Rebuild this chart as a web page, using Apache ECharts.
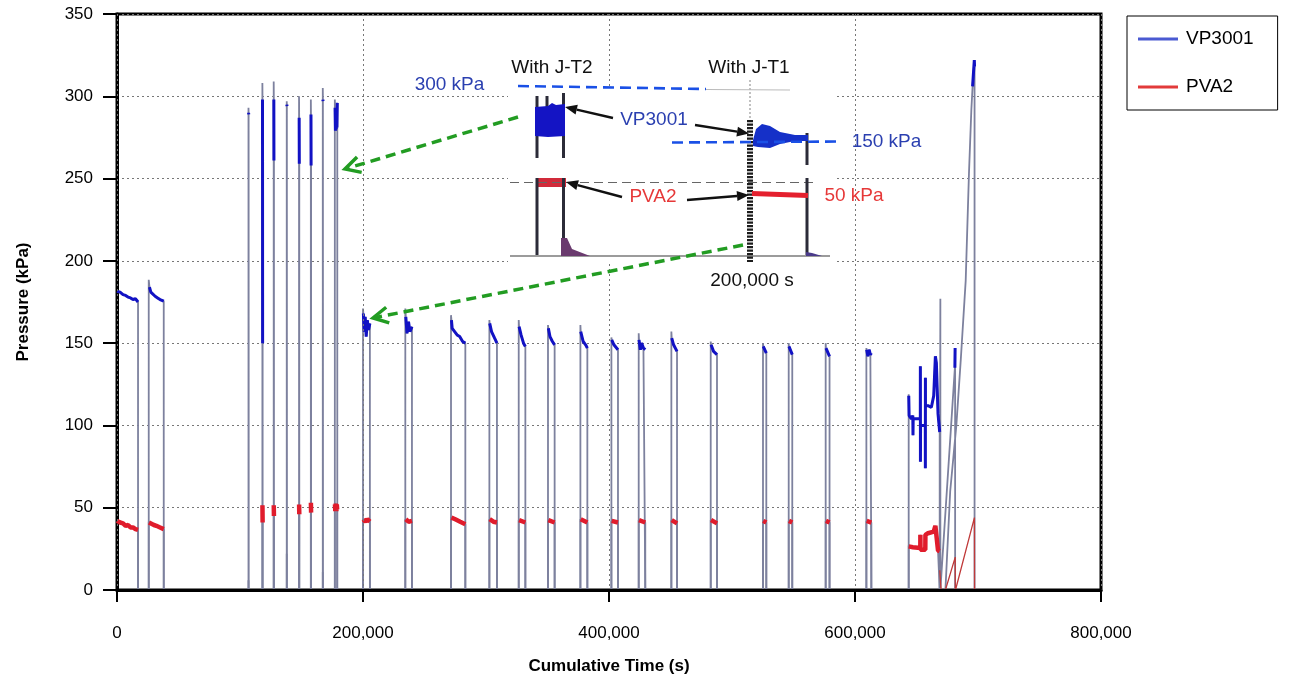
<!DOCTYPE html>
<html><head><meta charset="utf-8">
<script src="https://cdn.jsdelivr.net/npm/echarts@6/dist/echarts.min.js"></script>
<style>html,body{margin:0;padding:0;background:#fff}#c{width:1291px;height:686px}</style>
</head><body><div id="c"></div>
<script>
// ---------- DATA (cumulative time in s, pressure in kPa) ----------
// each pulse = [risePoints, plateauPoints]; rise points are the transition (grey), plateau points are the coloured record
const vpEarly = [
  [[], [[0,181.5],[2500,181],[4900,179.5],[7000,179],[8950,178],[11000,177.5],[13000,176.5],[15000,177],[17100,175]]],
  [[[25800,188.5]], [[26400,184],[27500,181],[29000,180],[31000,178.5],[33000,177.5],[35000,176.5],[38000,175.5]]]
];
const vpSpikes = [
  [[[106900,293]], [[107000,290],[107100,289]]],
  [[[118200,308]], [[118300,298],[118400,150]]],
  [[[127400,309]], [[127500,298],[127600,261]]],
  [[[138000,297]], [[138100,295],[138200,294]]],
  [[[148000,300]], [[148100,287],[148200,259]]],
  [[[157600,298]], [[157700,289],[157800,258]]],
  [[[167300,305]], [[167400,298],[167500,297]]],
  [[[177100,298]], [[177300,293],[177600,279],[177900,291],[178200,280],[178500,290],[178800,281],[179100,296]]]
];
const vpCycles = [
  [[[200000,171]], [[200300,168],[201000,157],[201800,166],[202600,154],[203500,164],[204500,158],[205600,162]]],
  [[[234400,171]], [[234800,166],[235800,156],[237000,163],[238200,157],[239800,160]]],
  [[[271550,167]], [[271900,164],[272500,159],[274500,157],[276500,155],[278600,154],[281000,151],[283200,150]]],
  [[[302750,164]], [[303000,162],[304500,157],[307000,153],[308900,150]]],
  [[[326600,164]], [[326900,160],[328500,155],[330500,150],[332000,148]]],
  [[[350400,161]], [[350700,159],[352000,154],[354000,151],[355800,149]]],
  [[[376750,161]], [[377000,157],[379000,151],[381000,149],[382400,147]]],
  [[[401950,153.5]], [[402200,152],[404000,149],[407300,146]]],
  [[[424150,156]], [[424400,152],[425500,146],[426500,150],[428000,147],[429500,146]]],
  [[[450700,157]], [[451000,153],[452500,149],[455300,145]]],
  [[[482700,151]], [[483000,149],[485000,145],[487800,143]]],
  [[[525200,150]], [[525400,148],[527900,144]]],
  [[[546100,150]], [[546300,148],[549000,143]]],
  [[[576150,150]], [[576400,147],[579300,142]]],
  [[[609250,147]], [[609500,146],[610500,142],[611500,146],[612500,143],[613300,144]]]
];
const vpEnd = [
  [[[643650,119]], [[643700,118],[644000,106],[645850,104],[647000,106],[647150,94],[647300,104],[649900,104],[653100,104],[653150,136],[653200,78],[653300,100],[655300,100],[657150,100],[657200,74],[657250,129],[657300,112],[659350,112],[662100,111],[664000,118],[665350,142],[666150,138],[667500,107],[668850,96]]],
  [[[669400,177]], []],
  [[[670000,0]], [[681200,135],[681400,147]]],
  [[[673500,0],[677400,60],[682400,100],[686000,140],[690000,188],[692650,253],[694600,292]], [[695600,306],[697000,322],[697200,318]]]
];

const pvaEarly = [
  [[], [[0,42],[2500,41],[4900,40.5],[7000,39],[8950,39.5],[11000,38],[13000,38],[15000,37],[17100,36.5]]],
  [[[25800,41.5]], [[26000,41],[27500,40.5],[30000,39.5],[32000,39],[35000,38],[38000,37]]]
];
const pvaSpikes = [
  [[[106900,6]], []],
  [[[118200,51.5]], [[118250,51.5],[118400,41]]],
  [[[127400,51.5]], [[127450,51.5],[127600,45]]],
  [[[138000,22]], []],
  [[[148000,52]], [[148050,52],[148200,46]]],
  [[[157600,53]], [[157650,53],[157800,47]]],
  [[[167300,11]], []],
  [[[177100,53]], [[177200,52],[177500,48],[177900,52.5],[178300,48],[178700,52],[179000,49]]]
];
const pvaCycles = [
  [[[200000,43]], [[200300,43],[202000,41.5],[203500,43],[205600,41.5]]],
  [[[234400,43]], [[234800,43],[237000,41.5],[239800,42]]],
  [[[271550,44]], [[271900,44],[275000,43],[279000,41.5],[283200,40]]],
  [[[302750,43]], [[303000,43],[306000,41.5],[308900,41]]],
  [[[326600,42.5]], [[326900,42.5],[332000,41]]],
  [[[350400,42.5]], [[350700,42.5],[355800,41]]],
  [[[376750,43]], [[377000,43],[382400,41]]],
  [[[401950,42]], [[402200,42],[407300,41]]],
  [[[424150,42.5]], [[424400,42.5],[429500,41]]],
  [[[450700,42.5]], [[451000,42.5],[455300,40.5]]],
  [[[482700,42.5]], [[483000,42.5],[487800,40.5]]],
  [[[525200,42]], [[525400,42],[527900,41]]],
  [[[546100,42]], [[546300,42],[549000,41]]],
  [[[576150,42]], [[576400,42],[579300,41]]],
  [[[609250,42]], [[609500,42],[613300,41]]]
];
const pvaEnd = [
  [[[643650,27]], [[643700,26.5],[647000,26],[653100,25.5],[653150,33.5],[653250,24.5],[657150,24.5],[657250,33.5],[659350,34.5],[664000,35.5],[665350,39],[666150,39],[667500,24],[668850,23.5]]]
];
const pvaRamps = [
  [[668900,12],[670000,0]],
  [[673500,0],[681500,20],[681550,0]],
  [[681700,0],[697100,44],[697200,0]]
];

const yTicks = { min: 0, max: 350, step: 50 };
const xTicks = { min: 0, max: 800000, step: 200000 };

// ---------- build series data ----------
function buildTrace(pulses) {
  const out = [];
  pulses.forEach(([rise, flat]) => {
    const pts = rise.concat(flat);
    if (!pts.length) return;
    if (pts[0][0] > 0) out.push([pts[0][0], 0]);
    pts.forEach(p => out.push(p));
    out.push([pts[pts.length - 1][0], 0]);
  });
  return out;
}
function buildFlat(pulses) {
  const out = [];
  pulses.forEach(([rise, flat]) => {
    flat.forEach(p => out.push(p));
    if (flat.length) out.push([flat[flat.length - 1][0], '-']);
  });
  return out;
}
function joinSegs(segs) {
  const out = [];
  segs.forEach(s => { s.forEach(p => out.push(p)); out.push([s[s.length - 1][0], '-']); });
  return out;
}
const vpAll = vpEarly.concat(vpSpikes, vpCycles, vpEnd);
const pvaAll = pvaEarly.concat(pvaSpikes, pvaCycles, pvaEnd);

// ---------- annotation (inset picture) ----------
const G = [];
const FF = 'Liberation Sans, Arial, sans-serif';
function gl(x1, y1, x2, y2, stroke, w, dash) {
  G.push({ type: 'line', z: 100, silent: true, shape: { x1, y1, x2, y2 },
    style: { stroke, lineWidth: w, lineDash: dash || null, lineCap: 'butt' } });
}
function gpoly(points, fill) { G.push({ type: 'polygon', z: 100, silent: true, shape: { points }, style: { fill } }); }
function grect(x, y, w, h, fill, stroke) {
  G.push({ type: 'rect', z: 99, silent: true, shape: { x, y, width: w, height: h }, style: { fill, stroke: stroke || null, lineWidth: 1 } });
}
function gtext(t, x, y, color, size) {
  G.push({ type: 'text', z: 101, silent: true,
    style: { text: t, x, y, fill: color, fontSize: size, fontFamily: FF, align: 'center', verticalAlign: 'middle' } });
}
function arrow(x1, y1, x2, y2, color, w, len, half, dash, filled) {
  const a = Math.atan2(y2 - y1, x2 - x1);
  const bx = x2 - len * Math.cos(a), by = y2 - len * Math.sin(a);
  const px = -Math.sin(a) * half, py = Math.cos(a) * half;
  if (filled) {
    gl(x1, y1, bx, by, color, w, dash);
    gpoly([[x2, y2], [bx + px, by + py], [bx - px, by - py]], color);
  } else {
    gl(x1, y1, x2 - 3 * Math.cos(a), y2 - 3 * Math.sin(a), color, w, dash);
    G.push({ type: 'polyline', z: 100, silent: true, shape: { points: [[bx + px, by + py], [x2, y2], [bx - px, by - py]] },
      style: { stroke: color, lineWidth: w, fill: null, lineJoin: 'miter' } });
  }
}
// white background of the pasted inset
grect(508, 89, 326, 174, '#fff');
// top / bottom strips
gl(510, 182.5, 815, 182.5, '#666', 1, [9, 5]);
gl(510, 256, 830, 256, '#7a7a7a', 1.5);
// With J-T2 pulses
gl(537, 96, 537, 158, '#2b2b38', 3); gl(537, 178, 537, 255, '#2b2b38', 3);
gl(547, 96, 547, 108, '#2b2b38', 3);
gl(563.5, 93, 563.5, 158, '#2b2b38', 3); gl(563.5, 178, 563.5, 255, '#2b2b38', 3);
gpoly([[535, 107], [548, 106], [552, 103], [556, 105], [565, 104], [565, 136], [548, 137], [535, 136]], '#1414c4');
grect(537, 178, 29, 9, '#d12a3a');
gpoly([[561, 238], [567, 238], [572, 249], [590, 256], [561, 256]], '#6a3a6e');
// With J-T1 pulse
gl(750, 80, 750, 120, '#999', 1.2, [2, 2]);
gl(750, 120, 750, 262, '#1c1c1c', 6, [2.2, 1.3]);
gl(807, 133, 807, 165, '#2b2b38', 3); gl(807, 178, 807, 255, '#2b2b38', 3);
gpoly([[753, 140], [756, 129], [762, 124], [770, 126], [780, 132], [795, 135], [808, 135], [808, 141], [795, 141], [780, 144], [770, 148], [758, 147], [753, 146]], '#1530c8');
gl(752, 193.5, 808, 195.5, '#e4202e', 5);
gpoly([[806, 252], [812, 253], [822, 256], [806, 256]], '#4a3a8a');
// reference level lines
gl(518, 86, 706, 89, '#1a50e6', 2.6, [11, 6]);
gl(706, 89.5, 790, 90, '#bbb', 1.2);
gl(672, 142.5, 840, 141.5, '#1a50e6', 2.6, [11, 6]);
// labels
gtext('With J-T2', 552, 68, '#111', 19);
gtext('With J-T1', 749, 68, '#111', 19);
gtext('300 kPa', 449.5, 85, '#2a3fb0', 19);
gtext('VP3001', 654, 120, '#2a3fb0', 19);
gtext('PVA2', 653, 197, '#e63838', 19);
gtext('150 kPa', 886.5, 142, '#2a3fb0', 19);
gtext('50 kPa', 854, 196, '#e63838', 19);
gtext('200,000 s', 752, 281, '#111', 19);
// black pointers
arrow(613, 118, 565, 107, '#111', 2.4, 12, 5, null, true);
arrow(695, 125, 749, 133.5, '#111', 2.4, 12, 5, null, true);
arrow(622, 197, 566, 182, '#111', 2.4, 12, 5, null, true);
arrow(687, 200, 749, 195, '#111', 2.4, 12, 5, null, true);
// green dashed arrows
arrow(518, 117, 345, 169, '#229c22', 3.5, 15, 8, [10, 6], false);
arrow(743, 245, 373, 318, '#229c22', 3.5, 15, 8, [10, 6], false);

// ---------- chart ----------
const chart = echarts.init(document.getElementById('c'), null, { renderer: 'canvas' });
const axisName = { fontWeight: 'bold', fontSize: 17, color: '#000', fontFamily: FF };
chart.setOption({
  animation: false,
  backgroundColor: '#fff',
  grid: { left: 117, right: 190, top: 14, bottom: 96, show: true, borderColor: '#000', borderWidth: 3 },
  xAxis: {
    type: 'value', min: xTicks.min, max: xTicks.max, interval: xTicks.step, z: 4,
    name: 'Cumulative Time (s)', nameLocation: 'middle', nameGap: 68, nameTextStyle: axisName,
    axisLine: { show: true, lineStyle: { color: '#000', width: 3 } },
    axisTick: { show: true, length: 12, lineStyle: { color: '#000', width: 2 } },
    axisLabel: { color: '#000', fontSize: 17, fontFamily: FF, margin: 35, formatter: v => v.toLocaleString('en-US') },
    splitLine: { show: true, lineStyle: { color: '#777', width: 1, type: [2, 3] } }
  },
  yAxis: {
    type: 'value', min: yTicks.min, max: yTicks.max, interval: yTicks.step,
    name: 'Pressure (kPa)', nameLocation: 'middle', nameGap: 85, nameRotate: 90, nameTextStyle: axisName,
    axisLine: { show: true, lineStyle: { color: '#000', width: 3 } },
    axisTick: { show: true, length: 14, lineStyle: { color: '#000', width: 2 } },
    axisLabel: { color: '#000', fontSize: 17, fontFamily: FF, margin: 24 },
    splitLine: { show: true, lineStyle: { color: '#777', width: 1, type: [2, 3] } }
  },
  legend: {
    data: [
      { name: 'VP3001', icon: 'rect', itemStyle: { color: '#4a5ad2' } },
      { name: 'PVA2', icon: 'rect', itemStyle: { color: '#e23a3a' } }
    ],
    orient: 'vertical', left: 1127, top: 16, padding: [12, 24, 12, 11],
    itemGap: 26, itemWidth: 40, itemHeight: 3,
    borderColor: '#000', borderWidth: 1, borderRadius: 0, backgroundColor: '#fff',
    textStyle: { color: '#000', fontSize: 19, lineHeight: 22, fontFamily: FF, padding: [0, 0, 0, 3] }
  },
  series: [
    { name: 'VP3001 trace', type: 'line', data: buildTrace(vpAll), symbol: 'none', showSymbol: false, z: 2,
      lineStyle: { color: '#7d819e', width: 1.8 } },
    { name: 'PVA2 trace', type: 'line', data: buildTrace(pvaAll), symbol: 'none', showSymbol: false, z: 2,
      lineStyle: { color: '#7d819e', width: 1.8 } },
    { name: 'PVA2 ramps', type: 'line', data: joinSegs(pvaRamps), symbol: 'none', showSymbol: false, z: 3,
      lineStyle: { color: '#c03a3a', width: 1.3 } },
    { name: 'VP3001', type: 'line', data: buildFlat(vpAll), symbol: 'none', showSymbol: false, z: 3,
      itemStyle: { color: '#1212c4' }, lineStyle: { color: '#1212c4', width: 3 } },
    { name: 'PVA2', type: 'line', data: buildFlat(pvaAll), symbol: 'none', showSymbol: false, z: 3,
      itemStyle: { color: '#e01c2c' }, lineStyle: { color: '#e01c2c', width: 4.5 } }
  ],
  graphic: G
});
</script>
</body></html>
